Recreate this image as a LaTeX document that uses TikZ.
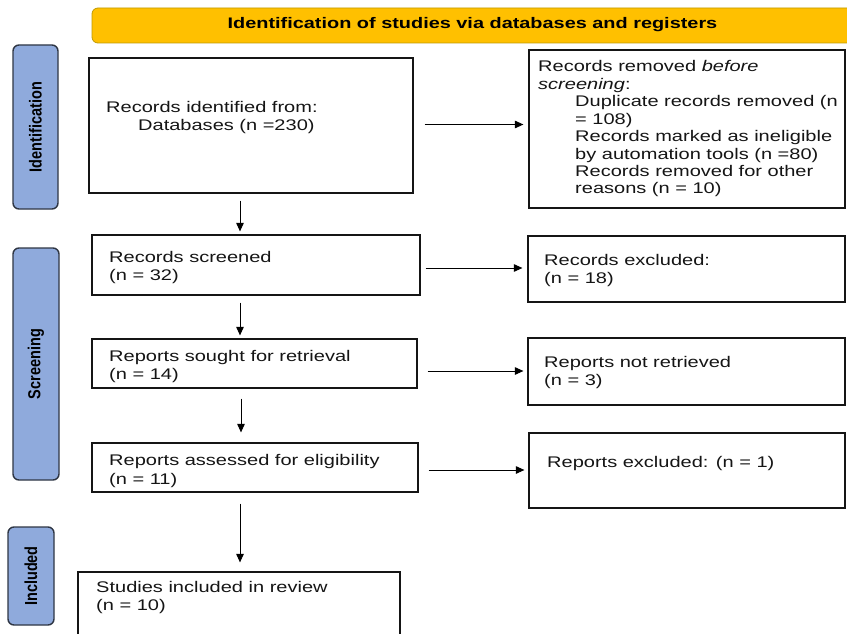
\documentclass[tikz,border=0pt]{standalone}
\usepackage{fontspec}
\setmainfont{Liberation Sans}
\newfontfamily\wf{Liberation Sans}[FakeStretch=1.3]
\usetikzlibrary{arrows.meta}
\definecolor{gold}{HTML}{FFC000}
\definecolor{goldline}{HTML}{C09A00}
\definecolor{lblue}{HTML}{8FAADC}
\definecolor{navy}{HTML}{2F3644}
\definecolor{ink}{HTML}{151515}
\newcommand\mybox[5]{\node[boxst,minimum width={(#4-#2)*1pt},minimum height={(#5-#3)*1pt}] (#1) at ({(#2+#4)/2},{(#3+#5)/2}) {};}
\newcommand\mylbl[6]{\node[lbl,minimum width={(#4-#2)*1pt},minimum height={(#5-#3)*1pt}] (#1) at ({(#2+#4)/2},{(#3+#5)/2}) {};
  \node[lbltxt] (#1t) at (#1.center) {\scalebox{1}[1.2]{#6}};}
\newcommand\mytxt[4]{\node[txt] (#1) at (#2,#3) {#4};}
\begin{document}
\begin{tikzpicture}[x=1pt,y=-1pt,
  boxst/.style={draw=ink,line width=1.2pt,inner sep=0pt},
  txt/.style={anchor=base west,inner sep=0pt,text=ink,font=\wf\fontsize{15.4}{17.4}\selectfont},
  lbl/.style={draw=navy,line width=1.4pt,fill=lblue,rounded corners=6pt,inner sep=0pt},
  lbltxt/.style={rotate=90,inner sep=0pt,font=\bfseries\fontsize{14.5}{16}\selectfont,text=black},
  arr/.style={-{Triangle[length=8.5pt,width=7.5pt]},line width=1pt,black}]
\useasboundingbox (0,0) rectangle (847,634);
\clip (0,0) rectangle (847,634);
\fill[white] (0,0) rectangle (847,634);
% banner
\node[draw=goldline,fill=gold,rounded corners=6pt,line width=0.8pt,inner sep=0pt,
  minimum width=761pt,minimum height=35pt] (ban) at (472.5,25.5) {};
\node[anchor=base,inner sep=0pt,text=black,font=\wf\bfseries\fontsize{15.3}{17}\selectfont] (bant) at (472.5,29)
  {Identification of studies via databases and registers};
% side labels
\mylbl{lid}{13}{45}{58}{209}{Identification}
\mylbl{lsc}{13}{248}{59}{480}{Screening}
\mylbl{lin}{8}{527}{54}{625}{Included}
% boxes
\mybox{B1}{89}{58}{413}{193}
\mybox{R1}{529}{50}{845}{208}
\mybox{B2}{92}{235}{420}{295}
\mybox{R2}{528}{236}{845}{302}
\mybox{B3}{92}{339}{417}{388}
\mybox{R3}{528}{338}{845}{405}
\mybox{B4}{92}{443}{418}{492}
\mybox{R4}{529}{433}{845}{508}
\mybox{B5}{78}{572}{400}{660}
% texts
\mytxt{t11}{106}{112.5}{Records identified from:}
\mytxt{t12}{138}{130}{Databases (n =230)}
\mytxt{r11}{538}{72}{Records removed \textit{before}}
\mytxt{r12}{538}{89.4}{\textit{screening}:}
\mytxt{r13}{575}{106.8}{Duplicate records removed (n}
\mytxt{r14}{575}{124.2}{= 108)}
\mytxt{r15}{575}{141.6}{Records marked as ineligible}
\mytxt{r16}{575}{159}{by automation tools (n =80)}
\mytxt{r17}{575}{176.4}{Records removed for other}
\mytxt{r18}{575}{193.8}{reasons (n = 10)}
\mytxt{t21}{109}{262}{Records screened}
\mytxt{t22}{109}{280}{(n = 32)}
\mytxt{r21}{544}{265}{Records excluded:}
\mytxt{r22}{544}{283}{(n = 18)}
\mytxt{t31}{109}{361}{Reports sought for retrieval}
\mytxt{t32}{109}{379}{(n = 14)}
\mytxt{r31}{544}{367}{Reports not retrieved}
\mytxt{r32}{544}{385}{(n = 3)}
\mytxt{t41}{109}{465}{Reports assessed for eligibility}
\mytxt{t42}{109}{484}{(n = 11)}
\mytxt{r41}{547}{467}{Reports excluded: (n = 1)}
\mytxt{t51}{96}{592}{Studies included in review}
\mytxt{t52}{96}{610}{(n = 10)}
% arrows
\coordinate (ax) at (240,0);
\coordinate (ax2) at (241,0);
\draw[arr,shorten <=11pt,shorten >=5pt] ([yshift=1pt]B1.east) -- ([yshift=1pt]B1.east -| R1.west);
\draw[arr,shorten <=5pt,shorten >=5pt] ([yshift=-3pt]B2.east) -- ([yshift=-3pt]B2.east -| R2.west);
\draw[arr,shorten <=10pt,shorten >=4pt] ([yshift=-7.5pt]B3.east) -- ([yshift=-7.5pt]B3.east -| R3.west);
\draw[arr,shorten <=10pt,shorten >=4pt] ([yshift=-2.5pt]B4.east) -- ([yshift=-2.5pt]B4.east -| R4.west);
\draw[arr,shorten <=7pt,shorten >=3pt] (B1.south -| ax) -- (B2.north -| ax);
\draw[arr,shorten <=7pt,shorten >=3pt] (B2.south -| ax) -- (B3.north -| ax);
\draw[arr,shorten <=10pt,shorten >=10pt] (B3.south -| ax2) -- (B4.north -| ax2);
\draw[arr,shorten <=11pt,shorten >=9pt] (B4.south -| ax) -- (B5.north -| ax);
\end{tikzpicture}
\end{document}
